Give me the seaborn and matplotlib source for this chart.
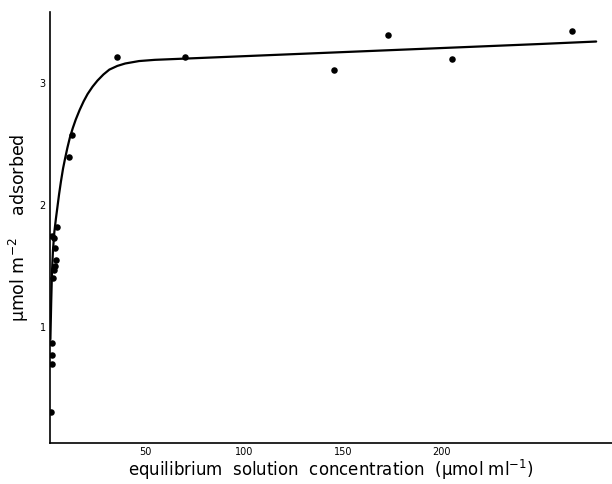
import numpy as np
import pandas as pd
import matplotlib
matplotlib.use("Agg")
import matplotlib.pyplot as plt
import seaborn as sns

# measured points (concentration, amount adsorbed)
conc = [2.5, 3.0, 3.0, 3.0, 3.5, 4.0, 4.5, 5.0, 4.5, 4.0, 3.0, 5.5,
        11.6, 13.1, 35.9, 70.2, 145.5, 172.7, 205.0, 265.7]
ads = [0.30, 0.70, 0.77, 0.87, 1.40, 1.47, 1.50, 1.55, 1.65, 1.73, 1.75, 1.82,
       2.39, 2.57, 3.21, 3.21, 3.11, 3.39, 3.20, 3.43]

# isotherm curve
curve_x = [2.2, 2.6, 3.0, 3.5, 4.2, 5.0, 5.8, 6.6, 7.5, 8.6, 9.6, 10.8, 12.0,
           13.5, 15.0, 17.0, 19.0, 21.0, 23.5, 26.0, 29.0, 32.0, 36.0, 40.0,
           47.0, 55.0, 70.0, 100.0, 130.0, 160.0, 190.0, 220.0, 250.0, 278.0]
curve_y = [0.90, 1.20, 1.45, 1.63, 1.78, 1.89, 1.99, 2.09, 2.19, 2.30, 2.38, 2.47,
           2.55, 2.63, 2.70, 2.78, 2.85, 2.91, 2.97, 3.02, 3.07, 3.11, 3.14, 3.16,
           3.18, 3.19, 3.20, 3.22, 3.24, 3.26, 3.28, 3.30, 3.32, 3.34]

xticks = [50, 100, 150, 200]
yticks = [1, 2, 3]

df = pd.DataFrame({"conc": conc, "ads": ads})
cdf = pd.DataFrame({"x": curve_x, "y": curve_y})

sns.set_style("white")
plt.rcParams["font.family"] = ["DejaVu Sans"]
plt.rcParams["text.color"] = "black"
plt.rcParams["axes.labelcolor"] = "black"
plt.rcParams["xtick.color"] = "black"
plt.rcParams["ytick.color"] = "black"

fig = plt.figure(figsize=(6.12, 4.84), dpi=100)
ax = fig.add_axes([0.0817, 0.0847, 0.9183, 0.89])

sns.lineplot(data=cdf, x="x", y="y", ax=ax, color="black", lw=1.6, sort=False)
sns.scatterplot(data=df, x="conc", y="ads", ax=ax, color="black", s=22,
                edgecolor="black", linewidth=0, zorder=3)

ax.set_xlim(2, 286)
ax.set_ylim(0.05, 3.58)
ax.set_xticks(xticks)
ax.set_yticks(yticks)
ax.tick_params(axis="both", direction="out", length=2, width=0.8,
               labelsize=7, pad=1)
sns.despine(ax=ax)
for s in ["left", "bottom"]:
    ax.spines[s].set_color("black")
    ax.spines[s].set_linewidth(1.2)

ax.set_xlabel("equilibrium  solution  concentration  (\u00b5mol ml$^{-1}$)",
              fontsize=12, va="center")
ax.xaxis.set_label_coords(0.5, -0.062)
ax.set_ylabel("\u00b5mol m$^{-2}$    adsorbed", fontsize=12.5, labelpad=6)

fig.savefig("out.png", dpi=100)
